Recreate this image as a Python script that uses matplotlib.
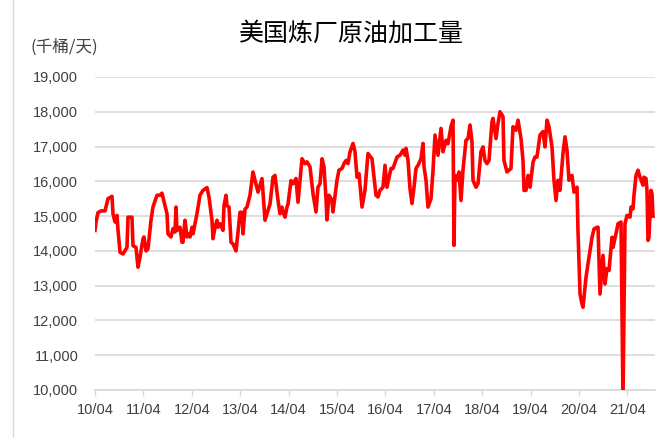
import matplotlib
matplotlib.use("Agg")
import matplotlib.pyplot as plt
from matplotlib.lines import Line2D

plt.rcParams['font.family'] = ['Liberation Sans', 'Noto Sans CJK SC', 'DejaVu Sans']

title = "美国炼厂原油加工量"
unit_label = "(千桶/天)"

# time in decimal years, values in thousand barrels per day
t_year = [
    2010.250, 2010.271, 2010.312, 2010.374, 2010.457, 2010.519, 2010.601, 2010.622, 2010.663, 2010.705,
    2010.725, 2010.767, 2010.829, 2010.911, 2010.932, 2011.014, 2011.035, 2011.097, 2011.138, 2011.180,
    2011.242, 2011.262, 2011.304, 2011.345, 2011.407, 2011.448, 2011.531, 2011.593, 2011.634, 2011.696,
    2011.738, 2011.758, 2011.820, 2011.862, 2011.903, 2011.924, 2011.944, 2012.006, 2012.047, 2012.068,
    2012.109, 2012.151, 2012.171, 2012.213, 2012.254, 2012.275, 2012.316, 2012.357, 2012.419, 2012.481,
    2012.564, 2012.605, 2012.667, 2012.688, 2012.729, 2012.771, 2012.791, 2012.833, 2012.895, 2012.915,
    2012.957, 2012.977, 2013.019, 2013.060, 2013.101, 2013.163, 2013.205, 2013.246, 2013.287, 2013.308,
    2013.349, 2013.390, 2013.452, 2013.514, 2013.556, 2013.618, 2013.700, 2013.721, 2013.762, 2013.804,
    2013.866, 2013.928, 2013.969, 2014.031, 2014.072, 2014.113, 2014.134, 2014.176, 2014.217, 2014.238,
    2014.300, 2014.341, 2014.403, 2014.444, 2014.527, 2014.589, 2014.630, 2014.692, 2014.754, 2014.816,
    2014.857, 2014.899, 2014.940, 2014.981, 2015.023, 2015.043, 2015.085, 2015.147, 2015.167, 2015.250,
    2015.291, 2015.353, 2015.395, 2015.436, 2015.477, 2015.519, 2015.581, 2015.622, 2015.663, 2015.705,
    2015.767, 2015.828, 2015.890, 2015.973, 2016.014, 2016.056, 2016.097, 2016.138, 2016.200, 2016.242,
    2016.283, 2016.304, 2016.366, 2016.407, 2016.490, 2016.552, 2016.614, 2016.655, 2016.676, 2016.717,
    2016.758, 2016.800, 2016.841, 2016.882, 2016.924, 2016.986, 2017.027, 2017.048, 2017.089, 2017.130,
    2017.192, 2017.233, 2017.275, 2017.337, 2017.399, 2017.440, 2017.502, 2017.543, 2017.605, 2017.647,
    2017.667, 2017.688, 2017.729, 2017.771, 2017.812, 2017.853, 2017.915, 2017.957, 2017.998, 2018.039,
    2018.060, 2018.122, 2018.163, 2018.225, 2018.266, 2018.308, 2018.349, 2018.390, 2018.452, 2018.473,
    2018.535, 2018.576, 2018.618, 2018.680, 2018.700, 2018.762, 2018.845, 2018.886, 2018.948, 2018.990,
    2019.052, 2019.093, 2019.114, 2019.155, 2019.196, 2019.238, 2019.300, 2019.341, 2019.382, 2019.444,
    2019.506, 2019.547, 2019.589, 2019.630, 2019.692, 2019.733, 2019.775, 2019.816, 2019.857, 2019.919,
    2019.961, 2020.002, 2020.043, 2020.105, 2020.147, 2020.209, 2020.229, 2020.271, 2020.312, 2020.333,
    2020.395, 2020.436, 2020.519, 2020.560, 2020.622, 2020.643, 2020.684, 2020.746, 2020.787, 2020.828,
    2020.870, 2020.932, 2020.952, 2021.014, 2021.056, 2021.118, 2021.159, 2021.200, 2021.242, 2021.304,
    2021.324, 2021.366, 2021.386, 2021.428, 2021.469, 2021.510, 2021.572, 2021.593, 2021.634, 2021.655,
    2021.676, 2021.696, 2021.738, 2021.758, 2021.779,
]

crude_runs = [
    14590, 14830, 15100, 15150, 15150, 15500, 15570, 15070, 14830, 15020,
    14600, 13960, 13910, 14100, 14970, 14970, 14150, 14100, 13530, 13820,
    14350, 14400, 14000, 14060, 14880, 15260, 15600, 15600, 15660, 15300,
    15070, 14490, 14400, 14640, 14540, 15260, 14590, 14680, 14250, 14250,
    14880, 14400, 14490, 14400, 14680, 14490, 14780, 15070, 15600, 15740,
    15820, 15550, 14880, 14350, 14680, 14880, 14680, 14780, 14590, 15300,
    15600, 15300, 15260, 14250, 14200, 14000, 14540, 15110, 15110, 14490,
    15200, 15260, 15600, 16270, 16030, 15690, 16080, 15690, 14880, 15070,
    15350, 16120, 16170, 15450, 15070, 15260, 15120, 14970, 15260, 15350,
    16020, 15930, 16080, 15400, 16650, 16510, 16560, 16420, 15650, 15120,
    15830, 15930, 16650, 16420, 15500, 14890, 15600, 15450, 15120, 16030,
    16320, 16370, 16510, 16600, 16510, 16850, 17090, 16850, 16120, 16220,
    15260, 15740, 16800, 16650, 16120, 15600, 15550, 15740, 15830, 16460,
    15830, 15980, 16370, 16370, 16700, 16750, 16900, 16750, 16950, 16610,
    15790, 15360, 15830, 16370, 16460, 16650, 17090, 16420, 16030, 15260,
    15500, 16300, 17330, 16750, 17520, 16850, 17180, 17080, 17570, 17760,
    14160, 16170, 16030, 16270, 15450, 16320, 17180, 17230, 17620, 17140,
    16030, 15830, 15930, 16850, 16990, 16600, 16510, 16600, 17710, 17810,
    17230, 17660, 18000, 17860, 16600, 16270, 16370, 17570, 17470, 17760,
    17230, 16600, 15740, 15740, 16170, 15830, 16550, 16700, 16700, 17330,
    17430, 16990, 17760, 17570, 16990, 16030, 15450, 16030, 15740, 16800,
    17280, 16890, 16030, 16170, 15690, 15830, 14590, 12760, 12470, 12380,
    13240, 13630, 14390, 14630, 14680, 14680, 12760, 13870, 13050, 13490,
    13440, 14390, 14100, 14490, 14780, 14830, 9700, 14780, 15020, 14970,
    15260, 15210, 15600, 16170, 16320, 16120, 15890, 16120, 16080, 15740,
    14300, 14400, 15740, 15650, 15000,
]

tick_years = [2010.25 + k for k in range(12)]
tick_labels = ["10/04", "11/04", "12/04", "13/04", "14/04", "15/04",
               "16/04", "17/04", "18/04", "19/04", "20/04", "21/04"]
y_ticks = list(range(10000, 19001, 1000))

W, H = 665, 438
fig = plt.figure(figsize=(W / 100, H / 100), dpi=100)
ax = fig.add_axes([95 / W, 1 - 390 / H, (655 - 95) / W, (390 - 77) / H])

ax.plot(t_year, crude_runs, color='#FF0000', lw=2.6, solid_joinstyle='round', zorder=3)

ax.set_xlim(2010.25, 2010.25 + (655 - 95) / 48.4)
ax.set_ylim(10000, 19000)
ax.set_yticks(y_ticks)
ax.set_yticklabels([f"{v:,}" for v in y_ticks])
ax.set_xticks(tick_years)
ax.set_xticklabels(tick_labels)

ax.grid(axis='y', color='#D9D9D9', lw=1.2, zorder=0)
ax.set_axisbelow(True)
for s in ['left', 'right', 'top']:
    ax.spines[s].set_visible(False)
ax.spines['bottom'].set_color('#D9D9D9')
ax.spines['bottom'].set_linewidth(1.2)

ax.tick_params(axis='y', length=0, pad=12, labelsize=10.5, labelcolor='#404040')
ax.tick_params(axis='x', length=4, width=1, color='#D9D9D9', pad=5,
               labelsize=10.5, labelcolor='#404040')

fig.text(351 / W, 1 - 34 / H, title, ha='center', va='center', fontsize=18,
         family=['Noto Sans CJK SC', 'DejaVu Sans'], color='#000000')
fig.text(30 / W, 1 - 47 / H, unit_label, ha='left', va='center', fontsize=12,
         family=['Noto Sans CJK SC', 'DejaVu Sans'], color='#404040')

fig.add_artist(Line2D([13 / W, 13 / W], [0, 1], transform=fig.transFigure,
                      color='#D9D9D9', lw=1))

fig.savefig('out.png', dpi=100)
